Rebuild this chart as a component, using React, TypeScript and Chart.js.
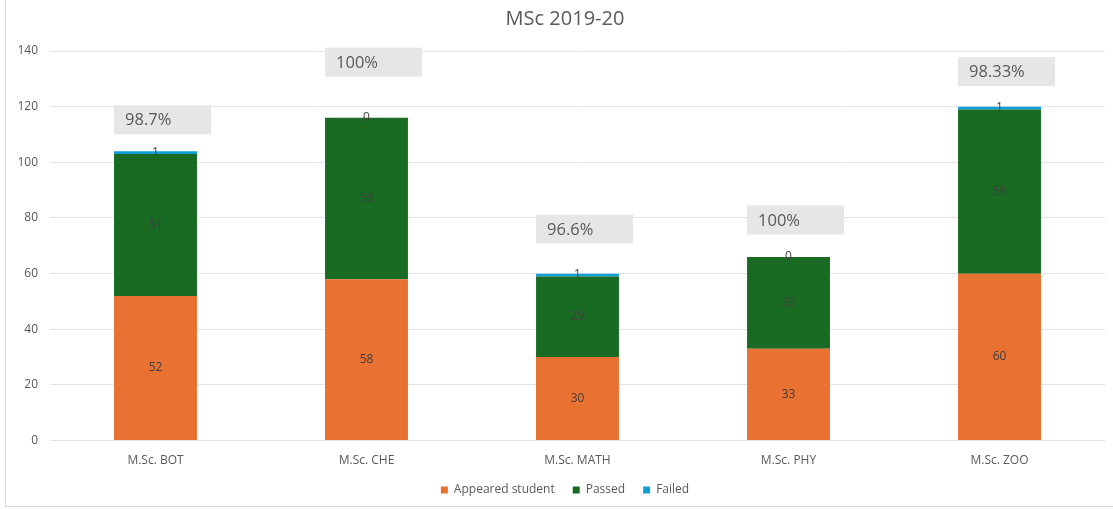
import React, { useEffect, useRef } from "react";
import { Chart, registerables } from "chart.js";

Chart.register(...registerables);

const categories = ["M.Sc. BOT", "M.Sc. CHE", "M.Sc. MATH", "M.Sc. PHY", "M.Sc. ZOO"];
const appeared = [52, 58, 30, 33, 60];
const passed = [51, 58, 29, 33, 59];
const failed = [1, 0, 1, 0, 1];
const passRates = ["98.7%", "100%", "96.6%", "100%", "98.33%"];
const passRateLevels = [115.3, 136, 76, 79.3, 132.6];
const yTicks = [0, 20, 40, 60, 80, 100, 120, 140];

const FONT = "'Open Sans', 'Liberation Sans', sans-serif";

const widenYAxis = {
  id: "widenYAxis",
  afterLayout(chart: any) {
    const y = chart.scales.y;
    if (y) y.left = 0;
  },
};

const labelPlugin = {
  id: "segLabels",
  afterDatasetsDraw(chart: any) {
    const ctx = chart.ctx;
    ctx.save();
    ctx.font = `12px ${FONT}`;
    ctx.fillStyle = "#404040";
    ctx.textAlign = "center";
    ctx.textBaseline = "middle";
    chart.data.datasets.forEach((ds: any, i: number) => {
      const meta = chart.getDatasetMeta(i);
      meta.data.forEach((bar: any, j: number) => {
        const p = bar.getProps(["x", "y", "base"], true);
        ctx.fillText(String(ds.data[j]), p.x, (p.y + p.base) / 2);
      });
    });
    const yScale = chart.scales.y;
    const meta0 = chart.getDatasetMeta(0);
    meta0.data.forEach((bar: any, j: number) => {
      const p = bar.getProps(["x", "width"], true);
      const left = p.x - p.width / 2;
      const yc = yScale.getPixelForValue(passRateLevels[j]);
      ctx.fillStyle = "#e6e6e6";
      ctx.fillRect(left, yc - 14.5, 97, 29);
      ctx.fillStyle = "#595959";
      ctx.font = `16.5px ${FONT}`;
      ctx.textAlign = "left";
      ctx.fillText(passRates[j], left + 11, yc + 1);
    });
    ctx.restore();
  },
};

export default function App() {
  const ref = useRef<HTMLCanvasElement | null>(null);
  useEffect(() => {
    if (!ref.current) return;
    const chart = new Chart(ref.current, {
      type: "bar",
      data: {
        labels: categories,
        datasets: [
          { label: "Appeared student", data: appeared, backgroundColor: "#E97132" },
          { label: "Passed", data: passed, backgroundColor: "#196B24" },
          { label: "Failed", data: failed, backgroundColor: "#0F9ED5" },
        ],
      },
      options: {
        animation: false,
        responsive: false,
        maintainAspectRatio: false,
        datasets: { bar: { barPercentage: 0.393, categoryPercentage: 1 } },
        layout: { padding: { left: 25, right: 8, top: 0, bottom: 3 } },
        plugins: {
          title: {
            display: true,
            text: "MSc 2019-20",
            color: "#595959",
            font: { family: FONT, size: 20, weight: "normal" },
            padding: { top: 7, bottom: 20 },
          },
          legend: {
            position: "bottom",
            labels: {
              boxWidth: 7,
              boxHeight: 7,
              color: "#595959",
              font: { family: FONT, size: 12 },
              padding: 18,
            },
          },
          tooltip: { enabled: false },
        },
        scales: {
          x: {
            stacked: true,
            grid: { display: false, drawTicks: false },
            border: { display: false },
            ticks: { color: "#595959", font: { family: FONT, size: 12 }, padding: 13 },
            afterFit: (scale: any) => {
              scale.height = scale.height - 15;
            },
          },
          y: {
            stacked: true,
            min: 0,
            max: 140,
            afterBuildTicks: (scale: any) => {
              scale.ticks = yTicks.map((v) => ({ value: v }));
            },
            afterFit: (scale: any) => {
              scale.width = 25;
            },
            grid: { color: "#e3e3e3", drawTicks: false, lineWidth: 1 },
            border: { display: false },
            ticks: { color: "#595959", font: { family: FONT, size: 12 }, padding: 12 },
          },
        },
      },
      plugins: [widenYAxis, labelPlugin],
    });
    return () => chart.destroy();
  }, []);
  return (
    <div style={{ position: "fixed", left: 0, top: 0, width: 1113, height: 509, overflow: "hidden", background: "#fff" }}>
      <div
        style={{
          position: "absolute",
          left: 5,
          top: -2,
          width: 1120,
          height: 509,
          borderLeft: "1px solid #d9d9d9",
          borderBottom: "1px solid #d9d9d9",
          boxSizing: "border-box",
        }}
      />
      <canvas ref={ref} width={1113} height={509} style={{ position: "absolute", left: 0, top: 0 }} />
    </div>
  );
}
